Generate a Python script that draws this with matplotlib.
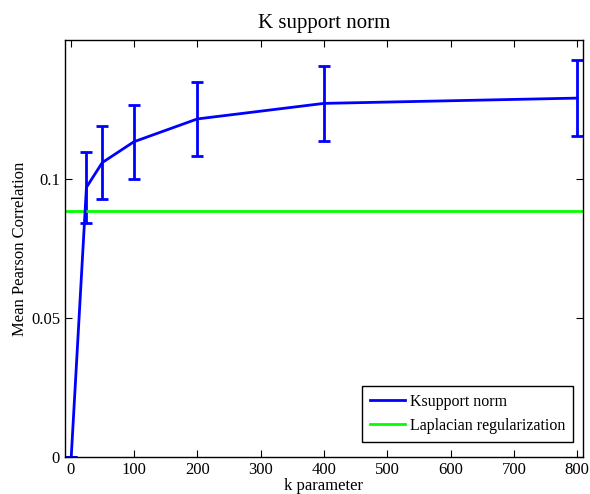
import matplotlib
matplotlib.use("Agg")
import matplotlib.pyplot as plt
from matplotlib.lines import Line2D

k_values = [1, 25, 50, 100, 200, 400, 800]
ksupport_mean = [0.0, 0.0970, 0.1059, 0.1134, 0.1216, 0.1272, 0.1291]
ksupport_err = [0.0, 0.0128, 0.0132, 0.0133, 0.0132, 0.0136, 0.0136]
laplacian_value = 0.0884
x_ticks = [0, 100, 200, 300, 400, 500, 600, 700, 800]
y_ticks = [0, 0.05, 0.1]
y_ticklabels = ["0", "0.05", "0.1"]

plt.rcParams['font.family'] = ['Liberation Serif', 'DejaVu Serif']
fig = plt.figure(figsize=(5.9, 4.94), dpi=100)
ax = fig.add_axes([0.110, 0.075, 0.878, 0.844])

ax.errorbar(k_values, ksupport_mean, yerr=ksupport_err, color='#0000ff', lw=2,
            elinewidth=2, capsize=4, capthick=2)
ax.axhline(laplacian_value, color='#00ff00', lw=2)

ax.set_xlim(-9, 809)
ax.set_ylim(0, 0.15)
ax.set_xticks(x_ticks)
ax.set_yticks(y_ticks)
ax.set_yticklabels(y_ticklabels)
ax.tick_params(direction='in', top=True, right=True, labelsize=12, length=5, width=0.8)
for s in ax.spines.values():
    s.set_linewidth(1.0)

ax.set_title('K support norm', fontsize=15, pad=9)
ax.set_xlabel('k parameter', fontsize=12, labelpad=0)
ax.set_ylabel('Mean Pearson Correlation', fontsize=12, labelpad=2)

handles = [Line2D([], [], color='#0000ff', lw=2),
           Line2D([], [], color='#00ff00', lw=2)]
labels = ['Ksupport norm', 'Laplacian regularization']
leg = ax.legend(handles, labels, loc='lower right', fontsize=11.5, fancybox=False,
                framealpha=1, edgecolor='black', borderaxespad=0,
                handlelength=2.2, handletextpad=0.3, borderpad=0.5,
                labelspacing=0.5, bbox_to_anchor=(0.981, 0.036))
leg.get_frame().set_linewidth(1.0)

fig.savefig('out.png', dpi=100)
